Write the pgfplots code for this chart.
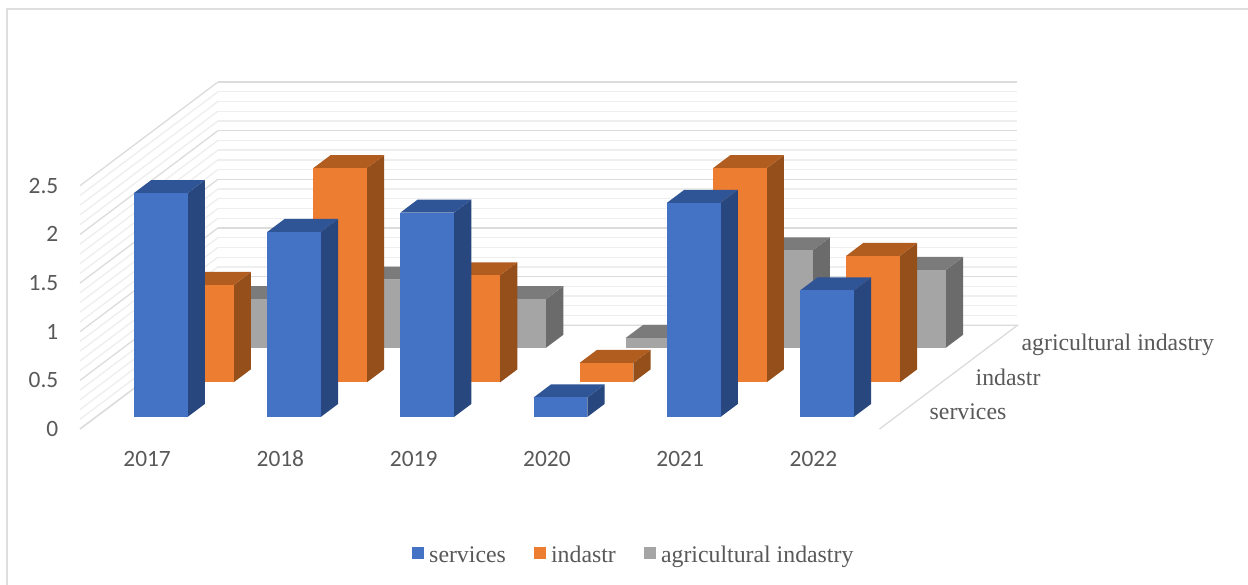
\documentclass[border=0pt]{standalone}
\usepackage{fontspec}
\usepackage{pgfplots}
\usepackage{pgfplotstable}
\pgfplotsset{compat=1.18}
\setmainfont{Liberation Serif}
\newfontfamily\carlitofont{Carlito}

\definecolor{inktext}{HTML}{595959}
\definecolor{gridmajor}{HTML}{DCDCDC}
\definecolor{gridminor}{HTML}{EEEEEE}
\definecolor{frameline}{HTML}{DEDEDE}
\definecolor{blueF}{HTML}{4472C4}
\definecolor{blueS}{HTML}{28477F}
\definecolor{blueT}{HTML}{2F5597}
\definecolor{orangeF}{HTML}{ED7D31}
\definecolor{orangeS}{HTML}{954F1B}
\definecolor{orangeT}{HTML}{B25D20}
\definecolor{grayF}{HTML}{A5A5A5}
\definecolor{grayS}{HTML}{6B6B6B}
\definecolor{grayT}{HTML}{7B7B7B}

% Share per year and series
\pgfplotstableread{
idx services indastr agri
0   2.3      1.0     0.5
1   1.9      2.2     0.7
2   2.1      1.1     0.5
3   0.2      0.2     0.1
4   2.2      2.2     1.0
5   1.3      1.3     0.8
}\sharetable

% One 3D column: category index, depth band, value, colour stem
\newcommand{\column}[4]{%
  \pgfmathsetmacro\xa{#1+0.284}%
  \pgfmathsetmacro\xb{#1+0.687}%
  \pgfmathsetmacro\ya{#2+0.35}%
  \pgfmathsetmacro\yb{#2+0.727}%
  \edef\zt{#3}%
  \addplot3[forget plot,draw=none,fill=#4S,mark=none] coordinates
    {(\xb,\ya,0) (\xb,\yb,0) (\xb,\yb,\zt) (\xb,\ya,\zt)};
  \addplot3[forget plot,draw=none,fill=#4T,mark=none] coordinates
    {(\xa,\ya,\zt) (\xb,\ya,\zt) (\xb,\yb,\zt) (\xa,\yb,\zt)};
  \addplot3[forget plot,draw=none,fill=#4F,mark=none] coordinates
    {(\xa,\ya,0) (\xb,\ya,0) (\xb,\ya,\zt) (\xa,\ya,\zt)};
}
% Every column of one series, left to right
\newcommand{\seriesrow}[3]{%
  \pgfplotsforeachungrouped \i in {0,...,5}{%
    \pgfplotstablegetelem{\i}{#1}\of\sharetable
    \edef\cellvalue{\pgfplotsretval}%
    \column{\i}{#2}{\cellvalue}{#3}%
  }%
}

\begin{document}
\begin{tikzpicture}[x=1pt,y=1pt]
\path[use as bounding box] (0,0) rectangle (1248,585);
\fill[white] (0,0) rectangle (1248,585);
\draw[frameline,line width=1.8pt] (7,-2) -- (7,576) -- (1250,576);
\begin{axis}[
  at={(80pt,156pt)},anchor=origin,
  x={(133.25pt,0pt)},y={(45.97pt,34.57pt)},z={(0pt,97.3pt)},
  xmin=0,xmax=6,ymin=0,ymax=3,zmin=0,zmax=2.5,
  clip=false,
  axis line style={draw=none},
  major tick length=0pt,minor tick length=0pt,
  xtick={0.5,1.5,2.5,3.5,4.5,5.5},
  xticklabels={2017,2018,2019,2020,2021,2022},
  ytick={0.5,1.5,2.5},
  yticklabels={services,indastr,agricultural indastry},
  ztick={0,0.5,1,1.5,2,2.5},
  minor z tick num=4,
  xmajorgrids=false,ymajorgrids=false,zmajorgrids=true,zminorgrids=true,
  major grid style={gridmajor,line width=1.3pt},
  minor grid style={gridminor,line width=1.3pt},
  /pgf/number format/assume math mode=true,
  xticklabel style={font=\carlitofont\fontsize{23.4pt}{27pt}\selectfont,text=inktext,
    anchor=base,inner sep=0pt,xshift=0.5pt,yshift=-38pt},
  zticklabel style={font=\carlitofont\fontsize{23.4pt}{27pt}\selectfont,text=inktext,
    anchor=east,inner sep=0pt,xshift=-21.5pt,text height=15pt,text depth=0pt},
  yticklabel style={font=\fontsize{23.8pt}{28pt}\selectfont,text=inktext,
    anchor=west,inner sep=0pt,xshift=27pt,text height=16pt,text depth=0pt},
  legend image code/.code={\fill[#1,draw=none] (0pt,-4.5pt) rectangle (12.2pt,7.7pt);},
  legend style={draw=none,fill=none,
    at={(0.3508,-0.363)},anchor=west,
    legend columns=3,
    font=\fontsize{23.8pt}{28pt}\selectfont,text=inktext,
    /tikz/column 1/.style={column sep=3pt},
    /tikz/column 2/.style={column sep=26pt},
    /tikz/column 3/.style={column sep=3pt},
    /tikz/column 4/.style={column sep=26pt},
    /tikz/column 5/.style={column sep=3pt}},
]
% floor edges
\addplot3[forget plot,gridmajor,line width=1.3pt,mark=none] coordinates {(0,0,0) (0,3,0) (6,3,0) (6,0,0)};

\seriesrow{agri}{2}{gray}
\seriesrow{indastr}{1}{orange}
\seriesrow{services}{0}{blue}

\addlegendimage{fill=blueF}
\addlegendentry{services}
\addlegendimage{fill=orangeF}
\addlegendentry{indastr}
\addlegendimage{fill=grayF}
\addlegendentry{agricultural indastry}
\end{axis}
\end{tikzpicture}
\end{document}
